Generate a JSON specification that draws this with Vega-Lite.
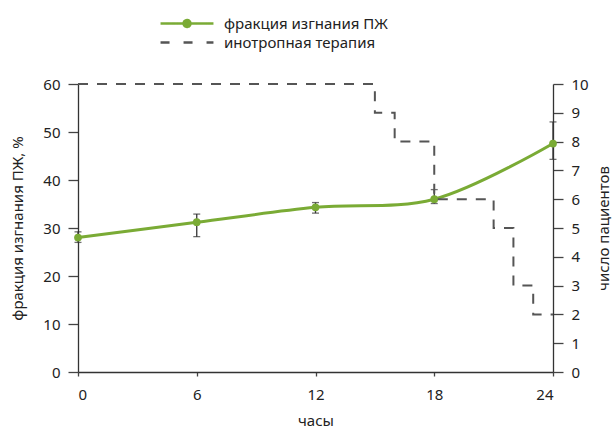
{
  "$schema": "https://vega.github.io/schema/vega-lite/v6.json",
  "width": 475,
  "height": 288,
  "autosize": "none",
  "padding": {"left": 78, "top": 84, "right": 59, "bottom": 56},
  "config": {
    "font": "Noto Sans",
    "view": {"stroke": null},
    "axis": {
      "grid": false,
      "labelFontSize": 15,
      "titleFontSize": 15,
      "titleFontWeight": "normal",
      "labelColor": "#222",
      "titleColor": "#222",
      "domainColor": "#333",
      "domainWidth": 1.3,
      "tickColor": "#444",
      "tickWidth": 1.3
    },
    "legend": {
      "labelFontSize": 15,
      "labelColor": "#222",
      "labelLimit": 400
    }
  },
  "datasets": {
    "ef": [
      {"hour": 0, "ef": 28.0, "lo": 27.0, "hi": 29.2},
      {"hour": 6, "ef": 31.2, "lo": 28.2, "hi": 32.9},
      {"hour": 12, "ef": 34.3, "lo": 33.1, "hi": 35.3},
      {"hour": 18, "ef": 36.0, "lo": 35.1, "hi": 38.0},
      {"hour": 24, "ef": 47.6, "lo": 44.3, "hi": 52.1}
    ],
    "inotropes": [
      {"hour": 0, "patients": 10},
      {"hour": 15, "patients": 9},
      {"hour": 16, "patients": 8},
      {"hour": 18, "patients": 6},
      {"hour": 21, "patients": 5},
      {"hour": 22, "patients": 3},
      {"hour": 23, "patients": 2},
      {"hour": 24, "patients": 2}
    ]
  },
  "encoding": {
    "x": {
      "field": "hour",
      "type": "quantitative",
      "scale": {"domain": [0, 24], "nice": false},
      "axis": {
        "title": "часы",
        "values": [0, 6, 12, 18, 24],
        "tickSize": 4,
        "labelPadding": 11,
        "titlePadding": 11
      }
    }
  },
  "layer": [
    {
      "data": {"name": "ef"},
      "encoding": {
        "y": {
          "field": "ef",
          "type": "quantitative",
          "scale": {"domain": [0, 60], "nice": false},
          "axis": {
            "orient": "left",
            "title": "фракция изгнания ПЖ, %",
            "values": [0, 10, 20, 30, 40, 50, 60],
            "tickSize": 10,
            "labelPadding": 8,
            "titlePadding": 17
          }
        }
      },
      "layer": [
        {
          "mark": {"type": "rule", "color": "#333", "strokeWidth": 1.3},
          "encoding": {"y": {"field": "lo", "type": "quantitative"}, "y2": {"field": "hi"}}
        },
        {
          "mark": {"type": "tick", "orient": "horizontal", "color": "#333", "size": 7, "thickness": 1.3},
          "encoding": {"y": {"field": "lo", "type": "quantitative"}}
        },
        {
          "mark": {"type": "tick", "orient": "horizontal", "color": "#333", "size": 7, "thickness": 1.3},
          "encoding": {"y": {"field": "hi", "type": "quantitative"}}
        },
        {
          "mark": {"type": "line", "interpolate": "catmull-rom", "strokeWidth": 3},
          "encoding": {
            "color": {
              "datum": "фракция изгнания ПЖ",
              "scale": {
                "domain": ["фракция изгнания ПЖ", "инотропная терапия"],
                "range": ["#7aab35", "#555555"]
              },
              "legend": {
                "title": null,
                "orient": "none",
                "legendX": 81,
                "legendY": -70,
                "symbolSize": 2800,
                "symbolStrokeWidth": 2.5,
                "labelOffset": 9,
                "rowPadding": 0,
                "clipHeight": 19,
                "encode": {
                  "symbols": {
                    "update": {
                      "shape": {"signal": "datum.value === 'фракция изгнания ПЖ' ? 'M-1,0H1M0.13,0A0.13,0.13 0 1 1 -0.13,0A0.13,0.13 0 1 1 0.13,0' : 'stroke'"},
                      "strokeDash": {"signal": "datum.value === 'инотропная терапия' ? [9, 14] : [1, 0]"},
                      "fill": {"signal": "datum.value === 'фракция изгнания ПЖ' ? '#7aab35' : 'transparent'"},
                      "fillOpacity": {"value": 1},
                      "strokeWidth": {"value": 2.5}
                    }
                  }
                }
              }
            }
          }
        },
        {
          "mark": {"type": "point", "filled": true, "size": 60, "opacity": 1, "color": "#7aab35"},
          "encoding": {}
        }
      ]
    },
    {
      "data": {"name": "inotropes"},
      "mark": {"type": "line", "interpolate": "step-after", "strokeDash": [10, 9], "strokeWidth": 2},
      "encoding": {
        "y": {
          "field": "patients",
          "type": "quantitative",
          "scale": {"domain": [0, 10], "nice": false},
          "axis": {
            "orient": "right",
            "title": "число пациентов",
            "titleAngle": 270,
            "titleBaseline": "top",
            "values": [0, 1, 2, 3, 4, 5, 6, 7, 8, 9, 10],
            "tickSize": 10,
            "labelPadding": 8,
            "titlePadding": 8
          }
        },
        "color": {"datum": "инотропная терапия"}
      }
    }
  ],
  "resolve": {"scale": {"y": "independent"}}
}
